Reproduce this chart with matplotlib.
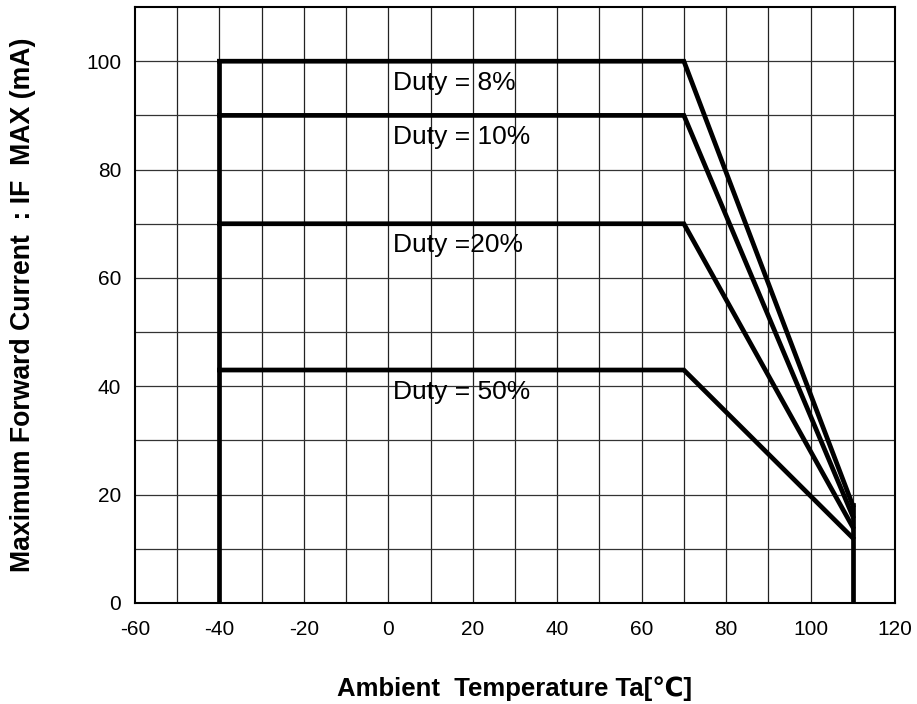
import matplotlib
matplotlib.use("Agg")
import matplotlib.pyplot as plt

plt.rcParams['font.family'] = ['Liberation Sans', 'DejaVu Sans']
plt.rcParams['axes.unicode_minus'] = False

# derating curves: (temperature, current) corner points
temps = [-40, 70, 110]
duty_labels = ['Duty = 8%', 'Duty = 10%', 'Duty =20%', 'Duty = 50%']
flat_current = [100, 90, 70, 43]
end_current = [18, 16, 14, 12]
label_y = [96, 86, 66, 39]

x_ticks = [-60, -40, -20, 0, 20, 40, 60, 80, 100, 120]
y_ticks = [0, 20, 40, 60, 80, 100]


def main():
    fig = plt.figure(figsize=(9.17, 7.04), dpi=100)
    ax = fig.add_axes([0.1472, 0.1435, 0.8288, 0.8465])

    ax.set_xlim(-60, 120)
    ax.set_ylim(0, 110)

    # grid every 10 in both directions
    for gx in range(-50, 120, 10):
        ax.axvline(gx, color='#222222', lw=0.9, zorder=1)
    for gy in range(10, 110, 10):
        ax.axhline(gy, color='#333333', lw=0.9, zorder=1)

    for flat, end in zip(flat_current, end_current):
        ax.plot(temps, [flat, flat, end], color='black', lw=3.4,
                solid_joinstyle='miter', zorder=3)

    # vertical edges at -40 and 110
    ax.plot([-40, -40], [0, max(flat_current)], color='black', lw=3.4, zorder=3)
    ax.plot([110, 110], [0, max(end_current)], color='black', lw=3.4, zorder=3)

    for lab, ly in zip(duty_labels, label_y):
        ax.text(1, ly, lab, fontsize=19, ha='left', va='center', zorder=4)

    ax.set_xticks(x_ticks)
    ax.set_yticks(y_ticks)
    ax.tick_params(length=0, labelsize=15)
    ax.tick_params(axis='x', pad=12)
    ax.tick_params(axis='y', pad=10)
    for sp in ax.spines.values():
        sp.set_linewidth(1.5)

    ax.set_xlabel('Ambient  Temperature Ta[℃]', fontsize=18.5, fontweight='bold',
                  labelpad=27)
    ax.set_ylabel('Maximum Forward Current  : IF  MAX (mA)', fontsize=19.2,
                  fontweight='bold', labelpad=36)

    fig.savefig('out.png', dpi=100)


if __name__ == "__main__":
    main()
